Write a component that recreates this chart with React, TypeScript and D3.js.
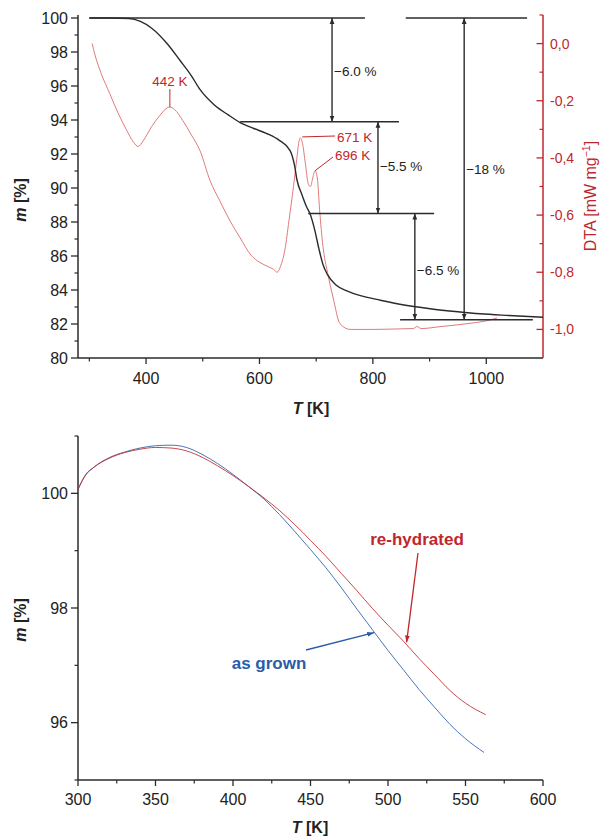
import React from "react";
import * as d3 from "d3";

// ---- top panel: TGA (black, left axis) + DTA (red, right axis)
const tgaT = [300, 340, 370, 390, 410, 437, 460, 480, 495, 520, 545, 566, 590, 613, 635, 654, 662, 666, 675, 683, 689, 697, 705, 712, 720, 735, 754, 780, 813, 850, 901, 950, 989, 1040, 1100];
const tgaM = [100, 100, 99.97, 99.8, 99.4, 98.5, 97.5, 96.6, 95.8, 94.9, 94.3, 93.85, 93.5, 93.2, 92.8, 92.2, 91.3, 90.5, 89.6, 88.9, 88.5, 87.6, 86.4, 85.5, 84.9, 84.3, 83.95, 83.65, 83.4, 83.15, 82.9, 82.72, 82.6, 82.5, 82.4];

const dtaT = [305, 310, 320, 336, 350, 365, 378, 386, 395, 410, 425, 437, 442, 450, 465, 480, 495, 513, 530, 548, 566, 585, 601, 615, 625, 631, 637, 645, 652, 660, 666, 669, 672, 676, 681, 686, 690, 694, 698, 702, 706, 712, 720, 730, 742, 760, 800, 850, 871, 878, 885, 920, 966, 1000, 1019];
const dtaV = [0.0, -0.04, -0.1, -0.175, -0.24, -0.3, -0.345, -0.36, -0.34, -0.29, -0.25, -0.225, -0.222, -0.23, -0.27, -0.32, -0.374, -0.48, -0.55, -0.62, -0.68, -0.74, -0.766, -0.78, -0.79, -0.8, -0.78, -0.72, -0.62, -0.5, -0.4, -0.35, -0.33, -0.35, -0.42, -0.49, -0.5, -0.47, -0.445, -0.47, -0.58, -0.71, -0.8, -0.89, -0.98, -1.0, -1.0, -0.998, -0.997, -0.99, -0.997, -0.99, -0.98, -0.97, -0.96];

// mass-loss steps: horizontal reference lines [T from, T to, m]
const stepLines = [
  [300, 786, 100],
  [858, 1072, 100],
  [566, 846, 93.9],
  [686, 908, 88.5],
  [848, 1082, 82.25],
];
// double arrows: T, m top, m bottom, label
const stepArrowT = [728, 809, 874, 961];
const stepArrowTop = [100, 93.9, 88.5, 100];
const stepArrowBot = [93.9, 88.5, 82.25, 82.25];
const stepLabels = ["\u22126.0 %", "\u22125.5 %", "\u22126.5 %", "\u221218 %"];
const stepLabelM = [96.9, 91.3, 85.2, 91.1];

const peakLabels = ["442 K", "671 K", "696 K"];

// ---- bottom panel: as grown vs re-hydrated
const grownT = [300, 305, 310, 320, 330, 340, 350, 360, 370, 380, 390, 400, 410, 420, 430, 440, 450, 460, 470, 480, 490, 500, 510, 520, 530, 540, 550, 562];
const grownM = [100.07, 100.32, 100.45, 100.62, 100.72, 100.79, 100.83, 100.84, 100.8, 100.68, 100.52, 100.33, 100.12, 99.9, 99.63, 99.33, 99.02, 98.7, 98.35, 97.98, 97.62, 97.26, 96.92, 96.58, 96.27, 95.97, 95.72, 95.48];
const hydT = [300, 305, 310, 320, 330, 340, 350, 360, 370, 380, 390, 400, 410, 420, 430, 440, 450, 460, 470, 480, 490, 500, 510, 520, 530, 540, 550, 563];
const hydM = [100.07, 100.33, 100.45, 100.61, 100.71, 100.77, 100.8, 100.79, 100.74, 100.63, 100.48, 100.31, 100.12, 99.92, 99.7, 99.45, 99.18, 98.9, 98.6, 98.3, 97.99, 97.7, 97.42, 97.12, 96.84, 96.56, 96.34, 96.14];

const FONT = "'Liberation Sans', Arial, sans-serif";
const RED = "#c0272d";
const RED_LINE = "#e07b7b";
const BLUE = "#2a5caa";
const DARK = "#2b2b2b";

export default function App() {
  // top scales
  const x1 = d3.scaleLinear().domain([280, 1100]).range([78, 543]);
  const y1 = d3.scaleLinear().domain([80, 100]).range([358, 18]);
  const yR = d3.scaleLinear().domain([-1.1, 0.1]).range([358, 15]);

  const tgaLine = d3.line<number>().x((d, i) => x1(tgaT[i])).y((d) => y1(d)).curve(d3.curveMonotoneX);
  const dtaLine = d3.line<number>().x((d, i) => x1(dtaT[i])).y((d) => yR(d)).curve(d3.curveMonotoneX);

  // bottom scales
  const x2 = d3.scaleLinear().domain([300, 600]).range([78, 543]);
  const y2 = d3.scaleLinear().domain([95, 101]).range([780, 436]);
  const grownLine = d3.line<number>().x((d, i) => x2(grownT[i])).y((d) => y2(d)).curve(d3.curveMonotoneX);
  const hydLine = d3.line<number>().x((d, i) => x2(hydT[i])).y((d) => y2(d)).curve(d3.curveMonotoneX);

  const leftTicks = d3.range(80, 100.1, 2);
  const leftMinor = d3.range(81, 100, 2);
  const xTicks1 = [400, 600, 800, 1000];
  const xMinor1 = [300, 500, 700, 900];
  const rTicks = [0, -0.2, -0.4, -0.6, -0.8, -1.0];
  const rMinor = [0.1, -0.1, -0.3, -0.5, -0.7, -0.9];

  const xTicks2 = d3.range(300, 601, 50);
  const xMinor2 = d3.range(325, 600, 50);
  const yTicks2 = [96, 98, 100];
  const yMinor2 = [95, 97, 99, 101];

  // peak positions from data
  const p442 = [x1(442), yR(-0.222)];
  const p671 = [x1(672), yR(-0.33)];
  const p696 = [x1(698), yR(-0.445)];

  return (
    <svg width={600} height={838} style={{ position: "absolute", left: 0, top: 0 }} fontFamily={FONT}>
      <defs>
        <marker id="ah" viewBox="0 0 10 10" refX="10" refY="5" markerWidth="6" markerHeight="6" markerUnits="userSpaceOnUse" orient="auto-start-reverse">
          <path d="M0,1 L10,5 L0,9 z" fill={DARK} />
        </marker>
        <marker id="ahRed" viewBox="0 0 10 10" refX="10" refY="5" markerWidth="7" markerHeight="7" markerUnits="userSpaceOnUse" orient="auto">
          <path d="M0,1.5 L10,5 L0,8.5 z" fill={RED} />
        </marker>
        <marker id="ahBlue" viewBox="0 0 10 10" refX="10" refY="5" markerWidth="7" markerHeight="7" markerUnits="userSpaceOnUse" orient="auto">
          <path d="M0,1.5 L10,5 L0,8.5 z" fill={BLUE} />
        </marker>
      </defs>

      {/* ===== TOP PANEL ===== */}
      <g>
        {/* left axis */}
        <line x1={78} x2={78} y1={15} y2={358} stroke={DARK} strokeWidth={1.5} />
        {leftTicks.map((t) => (
          <g key={"l" + t}>
            <line x1={71} x2={78} y1={y1(t)} y2={y1(t)} stroke={DARK} strokeWidth={1.3} />
            <text x={68} y={y1(t) + 5.5} textAnchor="end" fontSize={16} fill="#222">{t}</text>
          </g>
        ))}
        {leftMinor.map((t) => (
          <line key={"lm" + t} x1={74.5} x2={78} y1={y1(t)} y2={y1(t)} stroke={DARK} strokeWidth={1.2} />
        ))}
        {/* bottom axis */}
        <line x1={78} x2={543} y1={358} y2={358} stroke={DARK} strokeWidth={1.5} />
        {xTicks1.map((t) => (
          <g key={"x" + t}>
            <line x1={x1(t)} x2={x1(t)} y1={358} y2={364} stroke={DARK} strokeWidth={1.3} />
            <text x={x1(t)} y={384} textAnchor="middle" fontSize={16} fill="#222">{t}</text>
          </g>
        ))}
        {xMinor1.map((t) => (
          <line key={"xm" + t} x1={x1(t)} x2={x1(t)} y1={358} y2={361.5} stroke={DARK} strokeWidth={1.2} />
        ))}
        {/* right DTA axis */}
        <line x1={543} x2={543} y1={15} y2={358} stroke={RED} strokeWidth={1.5} />
        {rTicks.map((t) => (
          <g key={"r" + t}>
            <line x1={536.5} x2={543} y1={yR(t)} y2={yR(t)} stroke={RED} strokeWidth={1.3} />
            <text x={550} y={yR(t) + 5} fontSize={14} fill={RED}>{d3.format(".1f")(t).replace("\u2212", "-").replace(".", ",")}</text>
          </g>
        ))}
        {rMinor.map((t) => (
          <line key={"rm" + t} x1={539.5} x2={543} y1={yR(t)} y2={yR(t)} stroke={RED} strokeWidth={1.2} />
        ))}

        {/* axis titles */}
        <text transform="translate(26,200) rotate(-90)" textAnchor="middle" fontSize={16} fontWeight="bold" fill="#222">
          <tspan fontStyle="italic">m</tspan> [%]
        </text>
        <text x={311} y={414} textAnchor="middle" fontSize={16} fontWeight="bold" fill="#222">
          <tspan fontStyle="italic">T</tspan> [K]
        </text>
        <text transform="translate(596,196) rotate(-90)" textAnchor="middle" fontSize={16} fill={RED}>
          DTA [mW mg<tspan dy={-6} fontSize={10.5}>{"\u22121"}</tspan><tspan dy={6}>]</tspan>
        </text>

        {/* curves */}
        <path d={dtaLine(dtaV) || ""} fill="none" stroke={RED_LINE} strokeWidth={1} />
        <path d={tgaLine(tgaM) || ""} fill="none" stroke={DARK} strokeWidth={1.4} />

        {/* step lines */}
        {stepLines.map((s, i) => (
          <line key={"s" + i} x1={x1(s[0])} x2={x1(s[1])} y1={y1(s[2])} y2={y1(s[2])} stroke={DARK} strokeWidth={1.4} />
        ))}
        {stepArrowT.map((t, i) => (
          <g key={"a" + i}>
            <line x1={x1(t)} x2={x1(t)} y1={y1(stepArrowTop[i])} y2={y1(stepArrowBot[i])} stroke={DARK} strokeWidth={1.4} markerStart="url(#ah)" markerEnd="url(#ah)" />
            <text x={x1(t) + 2} y={y1(stepLabelM[i]) + 5} fontSize={13.5} fill="#222">{stepLabels[i]}</text>
          </g>
        ))}

        {/* peak labels */}
        <line x1={p442[0]} x2={p442[0]} y1={p442[1]} y2={p442[1] - 18} stroke={RED} strokeWidth={1} />
        <text x={p442[0]} y={yR(-0.222) - 21} textAnchor="middle" fontSize={13.5} fill={RED}>{peakLabels[0]}</text>
        <line x1={p671[0] + 2} x2={335} y1={p671[1] - 1} y2={136} stroke={RED} strokeWidth={1} />
        <text x={337} y={141.5} fontSize={13.5} fill={RED}>{peakLabels[1]}</text>
        <line x1={p696[0]} x2={333} y1={p696[1]} y2={157} stroke={RED} strokeWidth={1} />
        <text x={335} y={159.5} fontSize={13.5} fill={RED}>{peakLabels[2]}</text>
      </g>

      {/* ===== BOTTOM PANEL ===== */}
      <g>
        <line x1={78} x2={78} y1={436} y2={780} stroke={DARK} strokeWidth={1.5} />
        {yTicks2.map((t) => (
          <g key={"y2" + t}>
            <line x1={71} x2={78} y1={y2(t)} y2={y2(t)} stroke={DARK} strokeWidth={1.3} />
            <text x={68} y={y2(t) + 5.5} textAnchor="end" fontSize={16} fill="#222">{t}</text>
          </g>
        ))}
        {yMinor2.map((t) => (
          <line key={"y2m" + t} x1={74.5} x2={78} y1={y2(t)} y2={y2(t)} stroke={DARK} strokeWidth={1.2} />
        ))}
        <line x1={78} x2={543} y1={780} y2={780} stroke={DARK} strokeWidth={1.5} />
        {xTicks2.map((t) => (
          <g key={"x2" + t}>
            <line x1={x2(t)} x2={x2(t)} y1={780} y2={786} stroke={DARK} strokeWidth={1.3} />
            <text x={x2(t)} y={805} textAnchor="middle" fontSize={16} fill="#222">{t}</text>
          </g>
        ))}
        {xMinor2.map((t) => (
          <line key={"x2m" + t} x1={x2(t)} x2={x2(t)} y1={780} y2={783.5} stroke={DARK} strokeWidth={1.2} />
        ))}
        <text transform="translate(26,620) rotate(-90)" textAnchor="middle" fontSize={16} fontWeight="bold" fill="#222">
          <tspan fontStyle="italic">m</tspan> [%]
        </text>
        <text x={310} y={833} textAnchor="middle" fontSize={16} fontWeight="bold" fill="#222">
          <tspan fontStyle="italic">T</tspan> [K]
        </text>

        <path d={grownLine(grownM) || ""} fill="none" stroke={BLUE} strokeWidth={1} opacity={0.85} />
        <path d={hydLine(hydM) || ""} fill="none" stroke={RED} strokeWidth={1} opacity={0.85} />

        <text x={417} y={545} textAnchor="middle" fontSize={17} fontWeight="bold" fill={RED}>re-hydrated</text>
        <line x1={418} x2={x2(512)} y1={553} y2={y2(97.4)} stroke={RED} strokeWidth={1.3} markerEnd="url(#ahRed)" />
        <text x={269} y={669} textAnchor="middle" fontSize={17} fontWeight="bold" fill={BLUE}>as grown</text>
        <line x1={306} x2={x2(491)} y1={650} y2={y2(97.57)} stroke={BLUE} strokeWidth={1.3} markerEnd="url(#ahBlue)" />
      </g>
    </svg>
  );
}
